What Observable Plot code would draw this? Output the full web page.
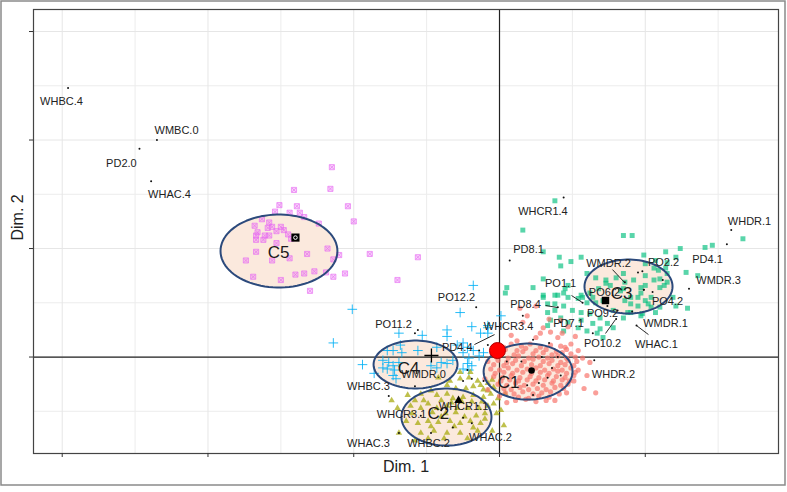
<!DOCTYPE html>
<html><head><meta charset="utf-8">
<script src="https://cdn.jsdelivr.net/npm/d3@7"></script>
<script src="https://cdn.jsdelivr.net/npm/@observablehq/plot@0.6"></script>
<style>body{margin:0;background:#fff;font-family:"Liberation Sans",Arial,sans-serif}</style>
</head><body><div id="chart"></div>
<script>
// Axis setup (Dim. 1 / Dim. 2)
const xTicks = [-3, -2, -1, 0, 1];
const yTicks = [0, 1, 2, 3];
const xMinor = [-2.5, -1.5, -0.5, 0.5, 1.5];
const yMinor = [-0.5, 0.5, 1.5, 2.5];
const xDomain = [-3.197, 1.914];
const yDomain = [-0.889, 3.203];

// Clusters
const clusterNames = ["C1", "C2", "C3", "C4", "C5"];
const ellCx = [0.196, -0.364, 0.885, -0.576, -1.513];
const ellCy = [-0.134, -0.553, 0.650, -0.069, 0.977];
const ellRx = [0.305, 0.309, 0.302, 0.288, 0.401];
const ellRy = [0.258, 0.263, 0.249, 0.221, 0.336];
const clusterLabelX = [0.062, -0.419, 0.837, -0.624, -1.516];
const clusterLabelY = [-0.235, -0.521, 0.585, -0.106, 0.963];
const centroidX = [0.220, -0.281, 0.727, -0.467, -1.400];
const centroidY = [-0.124, -0.401, 0.521, 0.014, 1.101];
const originX = [-0.014];
const originY = [0.060];

// Individuals, cluster C1
const c1Pts = [
[0.01,0.10],[0.08,0.12],[0.15,0.10],[0.21,0.12],[0.28,0.09],[0.35,0.11],[0.42,0.10],
[0.04,0.07],[0.12,0.06],[0.18,0.08],[0.25,0.06],[0.32,0.07],[0.39,0.05],[0.46,0.07],
[-0.05,0.03],[0.02,0.04],[0.10,0.02],[0.16,0.05],[0.23,0.03],[0.30,0.04],[0.36,0.02],[0.43,0.04],[0.49,0.03],
[-0.02,0.00],[0.06,-0.01],[0.13,0.01],[0.20,-0.01],[0.27,0.00],[0.33,-0.01],[0.40,0.01],[0.46,-0.01],[0.52,0.00],
[-0.08,-0.04],[-0.01,-0.03],[0.05,-0.05],[0.11,-0.03],[0.17,-0.04],[0.23,-0.02],[0.30,-0.04],[0.36,-0.03],[0.42,-0.05],[0.47,-0.03],[0.53,-0.04],
[-0.04,-0.07],[0.03,-0.08],[0.09,-0.06],[0.15,-0.08],[0.22,-0.07],[0.28,-0.08],[0.34,-0.06],[0.40,-0.08],[0.45,-0.07],[0.51,-0.08],
[-0.06,-0.11],[0.00,-0.12],[0.06,-0.10],[0.12,-0.12],[0.19,-0.11],[0.25,-0.10],[0.31,-0.12],[0.37,-0.11],[0.43,-0.12],[0.49,-0.10],
[-0.03,-0.15],[0.03,-0.14],[0.09,-0.15],[0.16,-0.14],[0.22,-0.15],[0.28,-0.14],[0.34,-0.15],[0.40,-0.13],[0.46,-0.15],[0.52,-0.14],
[-0.04,-0.18],[0.02,-0.19],[0.08,-0.17],[0.14,-0.19],[0.21,-0.18],[0.27,-0.19],[0.33,-0.17],[0.39,-0.18],[0.45,-0.19],[0.51,-0.17],
[0.01,-0.22],[0.07,-0.21],[0.13,-0.22],[0.19,-0.21],[0.25,-0.22],[0.31,-0.21],[0.37,-0.22],[0.43,-0.21],[0.48,-0.22],
[-0.01,-0.25],[0.05,-0.26],[0.11,-0.24],[0.17,-0.26],[0.23,-0.25],[0.30,-0.26],[0.36,-0.24],[0.42,-0.26],[0.47,-0.25],
[0.03,-0.29],[0.08,-0.30],[0.14,-0.28],[0.20,-0.30],[0.26,-0.29],[0.32,-0.30],[0.38,-0.28],[0.44,-0.29],
[0.04,-0.33],[0.10,-0.34],[0.16,-0.32],[0.23,-0.34],[0.29,-0.33],[0.35,-0.32],[0.41,-0.34],
[0.13,-0.37],[0.20,-0.38],[0.27,-0.36],[0.34,-0.37],
[0.11,-0.40],[0.18,-0.39],[0.25,-0.41],[0.32,-0.40],
[0.16,0.32],[0.30,0.27],[0.35,0.23],[0.28,0.22],[0.25,0.18],[0.40,0.18],[0.43,0.22],[0.49,0.12],[0.45,0.09],[0.54,0.06],
[0.54,-0.12],[0.51,-0.22],[0.58,-0.29],[0.12,0.15],[0.08,0.20],[0.03,0.09],[0.19,0.38],[0.34,0.35],[0.42,0.34],[0.25,0.47],
[0.14,0.45],[0.57,-0.01],[0.62,-0.05],[0.60,-0.17],[0.66,-0.33],[0.47,0.28],[0.52,0.19],[-0.10,-0.20],[-0.08,-0.30],[0.00,-0.36],
[0.05,-0.42],[0.38,-0.40],[0.46,-0.33]
];

// Cluster C2
const c2Pts = [
[-0.42,-0.19],[-0.34,-0.22],[-0.27,-0.20],[-0.21,-0.19],[-0.15,-0.22],[-0.08,-0.24],[-0.04,-0.28],[-0.63,-0.35],[-0.54,-0.34],[-0.47,-0.31],
[-0.43,-0.35],[-0.36,-0.34],[-0.32,-0.38],[-0.25,-0.37],[-0.18,-0.35],[-0.11,-0.37],[-0.06,-0.34],[-0.61,-0.45],[-0.54,-0.47],[-0.49,-0.43],
[-0.43,-0.47],[-0.36,-0.45],[-0.29,-0.47],[-0.22,-0.47],[-0.14,-0.47],[-0.08,-0.45],[-0.04,-0.43],[-0.64,-0.59],[-0.56,-0.61],[-0.49,-0.59],
[-0.42,-0.60],[-0.34,-0.59],[-0.27,-0.61],[-0.20,-0.59],[-0.13,-0.61],[-0.54,-0.70],[-0.45,-0.68],[-0.36,-0.70],[-0.27,-0.70],[-0.15,-0.68],
[-0.74,-0.40],[-0.70,-0.47],[-0.27,-0.14],[-0.20,-0.14],[-0.13,-0.26],[-0.08,-0.31],[-0.01,-0.38],[0.01,-0.49],[0.03,-0.63],[-0.38,-0.75],
[-0.49,-0.75],[-0.58,-0.77],[-0.22,-0.75],[-0.05,-0.68],[-0.30,-0.51],[-0.37,-0.52],[-0.16,-0.54],[-0.10,-0.52],[-0.46,-0.51],[-0.60,-0.52],
[-0.69,-0.70],[0.04,-0.34],[-0.36,-0.26],[-0.30,-0.29],[-0.40,-0.40],[-0.23,-0.29],
[-0.33,-0.42],[-0.26,-0.41],[-0.19,-0.41],[-0.12,-0.41],[-0.40,-0.55],[-0.24,-0.55],[-0.31,-0.64],[-0.18,-0.65],[-0.47,-0.64],[-0.10,-0.57],
[-0.02,-0.52],[-0.52,-0.40],[-0.58,-0.40],[-0.05,-0.21],[-0.18,-0.27],[-0.11,-0.30]
];

// Cluster C3
const c3Pts = [
[0.38,1.44],[0.16,1.17],[0.85,1.12],[0.91,1.12],[0.30,0.97],[0.41,0.92],[0.49,0.88],[0.30,0.72],[0.04,0.59],[0.05,0.64],
[0.30,0.57],[0.38,0.57],[0.45,0.63],[0.57,0.55],[0.62,0.59],[0.73,0.68],[0.86,0.69],
[1.67,1.09],[1.46,1.03],[1.41,1.01],[1.24,1.00],[1.14,0.97],[1.21,0.92],[1.28,0.78],[1.36,0.75],[1.15,0.77],[1.10,0.72],
[1.00,0.75],[1.00,0.66],[1.13,0.66],[0.97,0.59],[0.95,0.55],[1.00,0.52],[0.90,0.49],[0.86,0.52],[1.29,0.45],[1.21,0.47],
[1.07,0.41],[1.04,0.46],[0.88,0.41],[0.98,0.40],[0.85,0.63],[1.15,0.87],[1.06,0.82],
[1.06,0.71],[1.10,0.64],[1.15,0.69],[1.19,0.55],[1.04,0.55],[1.10,0.46],[0.90,0.41],[0.97,0.38],[0.85,0.36],[0.78,0.43],
[0.64,0.31],[0.67,0.22],[0.60,0.24],[0.54,0.27],[0.56,0.34],[0.47,0.32],[0.42,0.36],[0.38,0.43],[0.44,0.47],[0.50,0.43],
[0.56,0.41],[0.62,0.40],[0.69,0.36],[0.74,0.31],[0.78,0.27],[0.69,0.26],[0.71,0.18],[0.44,0.24],[0.35,0.34],[0.33,0.41],
[0.38,0.49],[0.47,0.55],[0.54,0.54],[0.60,0.50],[0.66,0.50],[0.71,0.52],[0.64,0.55],[0.56,0.57],[0.44,0.59],[0.40,0.57],
[0.47,0.66],[0.68,0.63],[0.76,0.66],[0.83,0.61],[0.90,0.55],[0.95,0.47],[1.02,0.49],[0.92,0.71],[0.97,0.64],[0.85,0.77],
[0.80,0.73],[0.73,0.71],[0.66,0.73],[0.60,0.77],[1.00,0.86],[1.07,0.89],[1.09,0.80],[0.99,0.94],[1.14,0.82],[0.30,0.55],
[0.33,0.29],[0.42,0.84],[0.56,0.92],[0.23,0.64],[0.33,0.49]
];

// Cluster C4
const c4Pts = [
[-0.18,0.66],[-1.01,0.44],[-0.27,0.41],[-1.14,0.13],[-0.19,0.28],[-0.08,0.27],[-0.13,0.22],[-0.69,0.22],[-0.53,0.20],[-0.36,0.25],
[-0.36,0.19],[-0.43,0.09],[-0.68,0.11],[-0.77,0.06],[-0.73,0.06],[-0.67,0.04],[-0.56,0.06],[-0.29,0.11],[-0.25,0.04],[-0.21,-0.01],
[-0.18,0.06],[-0.14,0.01],[-0.11,0.04],[-0.94,-0.07],[-0.80,-0.03],[-0.76,-0.05],[-0.73,-0.08],[-0.77,-0.11],[-0.80,-0.10],[-0.72,-0.12],
[-0.69,-0.05],[-0.73,-0.17],[-0.71,-0.20],[-0.40,-0.05],[-0.36,-0.06],[-0.32,-0.03],[-0.25,-0.11],[-0.22,-0.06],[-0.19,-0.08],[-0.21,-0.12],
[-0.47,-0.08],[-0.43,-0.10],[0.01,0.38],[-0.08,0.29],[-0.25,0.13],[-0.22,0.09],[-0.08,0.22],[-0.86,-0.15]
];

// Cluster C5
const c5Pts = [
[-1.15,1.75],[-1.41,1.54],[-1.16,1.55],[-1.51,1.40],[-1.39,1.39],[-1.04,1.39],[-1.54,1.34],[-1.44,1.33],[-1.37,1.33],[-1.34,1.29],
[-1.63,1.27],[-1.58,1.24],[-1.00,1.25],[-1.24,1.23],[-1.68,1.21],[-1.56,1.20],[-1.50,1.20],[-1.59,1.19],[-1.53,1.16],[-1.48,1.17],
[-1.66,1.15],[-1.61,1.12],[-1.67,1.12],[-1.58,1.12],[-1.45,1.13],[-1.43,1.09],[-1.67,1.08],[-1.62,1.08],[-1.53,1.05],[-1.18,1.00],
[-1.67,0.97],[-1.32,0.95],[-1.10,0.94],[-0.89,0.95],[-0.56,0.92],[-1.74,0.89],[-1.56,0.89],[-1.44,0.91],[-1.14,0.90],[-1.69,0.74],
[-1.50,0.71],[-1.40,0.76],[-1.34,0.77],[-1.27,0.79],[-1.19,0.78],[-1.14,0.74],[-1.06,0.77],[-0.70,0.71],[-1.30,0.61]
];

// Variable categories (small black dots)
const varDots = [
[-2.96,2.48],[-2.35,2.00],[-2.47,1.92],[-2.39,1.62],[0.44,1.47],[0.07,0.89],[1.59,1.17],[1.56,1.04],[1.30,0.63],[0.98,0.79],
[0.99,0.62],[0.94,0.29],[0.86,0.69],[0.57,0.50],[0.40,0.46],[0.80,0.35],[0.65,-0.03],[-0.16,0.46],[-0.58,0.22],[-0.76,-0.36],
[-0.69,-0.70],
[0.16,0.38],[0.23,0.16],[0.29,0.00],[0.15,-0.04],[0.36,-0.10],[0.33,-0.19],[0.27,-0.24],[0.23,-0.35],[0.42,-0.17],[0.05,-0.04],
[0.03,-0.18],[0.19,-0.26],[0.34,0.13],[0.40,0.00],
[-0.56,0.25],[-0.58,-0.27],[-0.15,-0.45],[-0.25,-0.56],[-0.19,-0.61],[-0.40,-0.49],[-0.54,-0.54],[-0.47,-0.70],[-0.32,-0.65],[-0.22,-0.12],
[-0.19,-0.20],[-0.11,-0.22],[-0.08,0.11],[-0.14,0.06],[-0.25,-0.22],
[0.95,0.78],[0.99,0.62],[1.05,0.60],[1.12,0.71],[0.91,0.42],[0.81,0.43],[0.74,0.47],[0.64,0.22],[0.42,0.32]
];

// Labels of variable categories
const varLabelText = ["WHBC.4","WMBC.0","PD2.0","WHAC.4","WHCR1.4","PD8.1","WHDR.1","PD4.1","WMDR.3","PO2.2",
  "WMDR.2","PO1.1","PO6.2","PO4.2","PD8.4","PO9.2","PD7.1","WMDR.1","PO10.2","WHAC.1",
  "WHDR.2","WHCR3.4","PO12.2","PO11.2","PD4.4","WMDR.0","WHBC.3","WHCR3.1","WHCR1.1","WHAC.3","WHBC.2","WHAC.2"];
const varLabelX = [-3.005,-2.216,-2.594,-2.264,0.298,0.199,1.715,1.427,1.503,1.125,
  0.748,0.419,0.720,1.153,0.178,0.707,0.473,1.139,0.707,1.077,
  0.782,0.062,-0.295,-0.727,-0.290,-0.521,-0.899,-0.672,-0.247,-0.899,-0.487,-0.062];
const varLabelY = [2.355,2.088,1.783,1.498,1.345,0.991,1.249,0.899,0.705,0.871,
  0.862,0.677,0.592,0.512,0.484,0.401,0.309,0.309,0.124,0.115,
  -0.161,0.281,0.548,0.300,0.090,-0.161,-0.272,-0.530,-0.456,-0.797,-0.797,-0.742];

// Leader segments
const leadX1 = [0.775, 0.494, 0.316, 0.727, 0.940, -0.172];
const leadY1 = [0.806, 0.567, 0.475, 0.217, 0.290, 0.115];
const leadX2 = [0.858, 0.569, 0.398, 0.796, 1.022, -0.034];
const leadY2 = [0.687, 0.502, 0.456, 0.346, 0.207, 0.207];

// --- build helper tables ---
const ellPts = [];
clusterNames.forEach((c, i) => {
  for (let k = 0; k < 90; k++) {
    const a = (2 * Math.PI * k) / 90;
    ellPts.push({c, x: ellCx[i] + ellRx[i] * Math.cos(a), y: ellCy[i] + ellRy[i] * Math.sin(a)});
  }
});
const leaders = leadX1.map((v, i) => ({x1: v, y1: leadY1[i], x2: leadX2[i], y2: leadY2[i]}));
const labels = varLabelText.map((t, i) => ({t, x: varLabelX[i], y: varLabelY[i]}));
const clusters = clusterNames.map((c, i) => ({c, lx: clusterLabelX[i], ly: clusterLabelY[i], cx: centroidX[i], cy: centroidY[i]}));
const X = d => d[0], Y = d => d[1];

const chart = Plot.plot({
  width: 787, height: 486,
  marginTop: 9, marginLeft: 33, marginRight: 9, marginBottom: 33,
  x: {domain: xDomain}, y: {domain: yDomain},
  style: {fontFamily: "'Liberation Sans', Arial, sans-serif", background: "#fff", overflow: "visible"},
  marks: [
    Plot.ruleX(xMinor, {stroke: "#ececec", strokeWidth: 1}),
    Plot.ruleY(yMinor, {stroke: "#ececec", strokeWidth: 1}),
    Plot.ruleX(xTicks, {stroke: "#e6e6e6", strokeWidth: 1}),
    Plot.ruleY(yTicks, {stroke: "#e6e6e6", strokeWidth: 1}),
    Plot.line(ellPts, {x: "x", y: "y", z: "c", fill: "#fbe9dd", stroke: null, curve: "linear-closed"}),
    Plot.ruleX([0], {stroke: "#222", strokeWidth: 1.2}),
    Plot.ruleY([0], {stroke: "#222", strokeWidth: 1.2}),
    Plot.dot(c5Pts, {x: X, y: Y, symbol: "square", r: 2.9, fill: "#E76BF3", fillOpacity: 0.3, stroke: "#E76BF3", strokeOpacity: 0.8, strokeWidth: 0.8}),
    Plot.dot(c5Pts, {x: X, y: Y, symbol: "times", r: 2.0, stroke: "#E76BF3", strokeWidth: 0.7, strokeOpacity: 0.9}),
    Plot.dot(c4Pts, {x: X, y: Y, symbol: "plus", r: 3.2, stroke: "#00B0F6", strokeWidth: 1, strokeOpacity: 0.85}),
    Plot.dot(c3Pts, {x: X, y: Y, symbol: "square", r: 2.8, fill: "#00BF7D", fillOpacity: 0.65, stroke: null}),
    Plot.dot(c2Pts, {x: X, y: Y, symbol: "triangle", r: 2.4, fill: "#A3A500", fillOpacity: 0.7, stroke: null}),
    Plot.dot(c1Pts, {x: X, y: Y, r: 2.6, fill: "#F8766D", fillOpacity: 0.7, stroke: null}),
    Plot.line(ellPts, {x: "x", y: "y", z: "c", fill: null, stroke: "#2c4a7c", strokeWidth: 2, curve: "linear-closed"}),
    Plot.dot(varDots, {x: X, y: Y, r: 1, fill: "#111", stroke: null}),
    Plot.link(leaders, {x1: "x1", y1: "y1", x2: "x2", y2: "y2", stroke: "#111", strokeWidth: 0.9}),
    Plot.text(labels, {x: "x", y: "y", text: "t", fontSize: 11, fill: "#222"}),
    // centroids
    Plot.dot(clusters.filter(d => d.c === "C1"), {x: "cx", y: "cy", r: 3.3, fill: "#000"}),
    Plot.dot(clusters.filter(d => d.c === "C2"), {x: "cx", y: "cy", symbol: "triangle", r: 3.2, fill: "#000"}),
    Plot.dot(clusters.filter(d => d.c === "C3"), {x: "cx", y: "cy", symbol: "square", r: 4.2, fill: "#000"}),
    Plot.dot(clusters.filter(d => d.c === "C4"), {x: "cx", y: "cy", symbol: "plus", r: 4.6, stroke: "#000", strokeWidth: 1.3}),
    Plot.dot(clusters.filter(d => d.c === "C5"), {x: "cx", y: "cy", symbol: "square", r: 4.6, fill: "#000"}),
    Plot.dot(clusters.filter(d => d.c === "C5"), {x: "cx", y: "cy", r: 1.8, stroke: "#fff", fill: "none", strokeWidth: 1}),
    Plot.text(clusters, {x: "lx", y: "ly", text: "c", fontSize: 17, fill: "#1a1a1a"}),
    Plot.dot(originX.map((v, i) => [v, originY[i]]), {x: X, y: Y, r: 8, fill: "#ff0000", stroke: "#b00000", strokeWidth: 1}),
    Plot.frame({stroke: "#444", strokeWidth: 1.2}),
    Plot.axisX({ticks: xTicks, tickSize: 4, tickFormat: () => "", label: null, stroke: "#333"}),
    Plot.axisY({ticks: yTicks, tickSize: 4, tickFormat: () => "", label: null, stroke: "#333"}),
    Plot.text(["Dim. 1"], {text: d => d, frameAnchor: "bottom", dy: 18, fontSize: 16, fill: "#222"}),
    Plot.text(["Dim. 2"], {text: d => d, frameAnchor: "left", dx: -15.5, dy: 9, rotate: -90, fontSize: 16, fill: "#222"})
  ]
});
document.getElementById("chart").appendChild(chart);
d3.select(chart).append("rect")
  .attr("x", 1).attr("y", 1).attr("width", 784).attr("height", 484)
  .attr("fill", "none").attr("stroke", "#8a8a8a").attr("stroke-width", 1.5);
</script></body></html>
